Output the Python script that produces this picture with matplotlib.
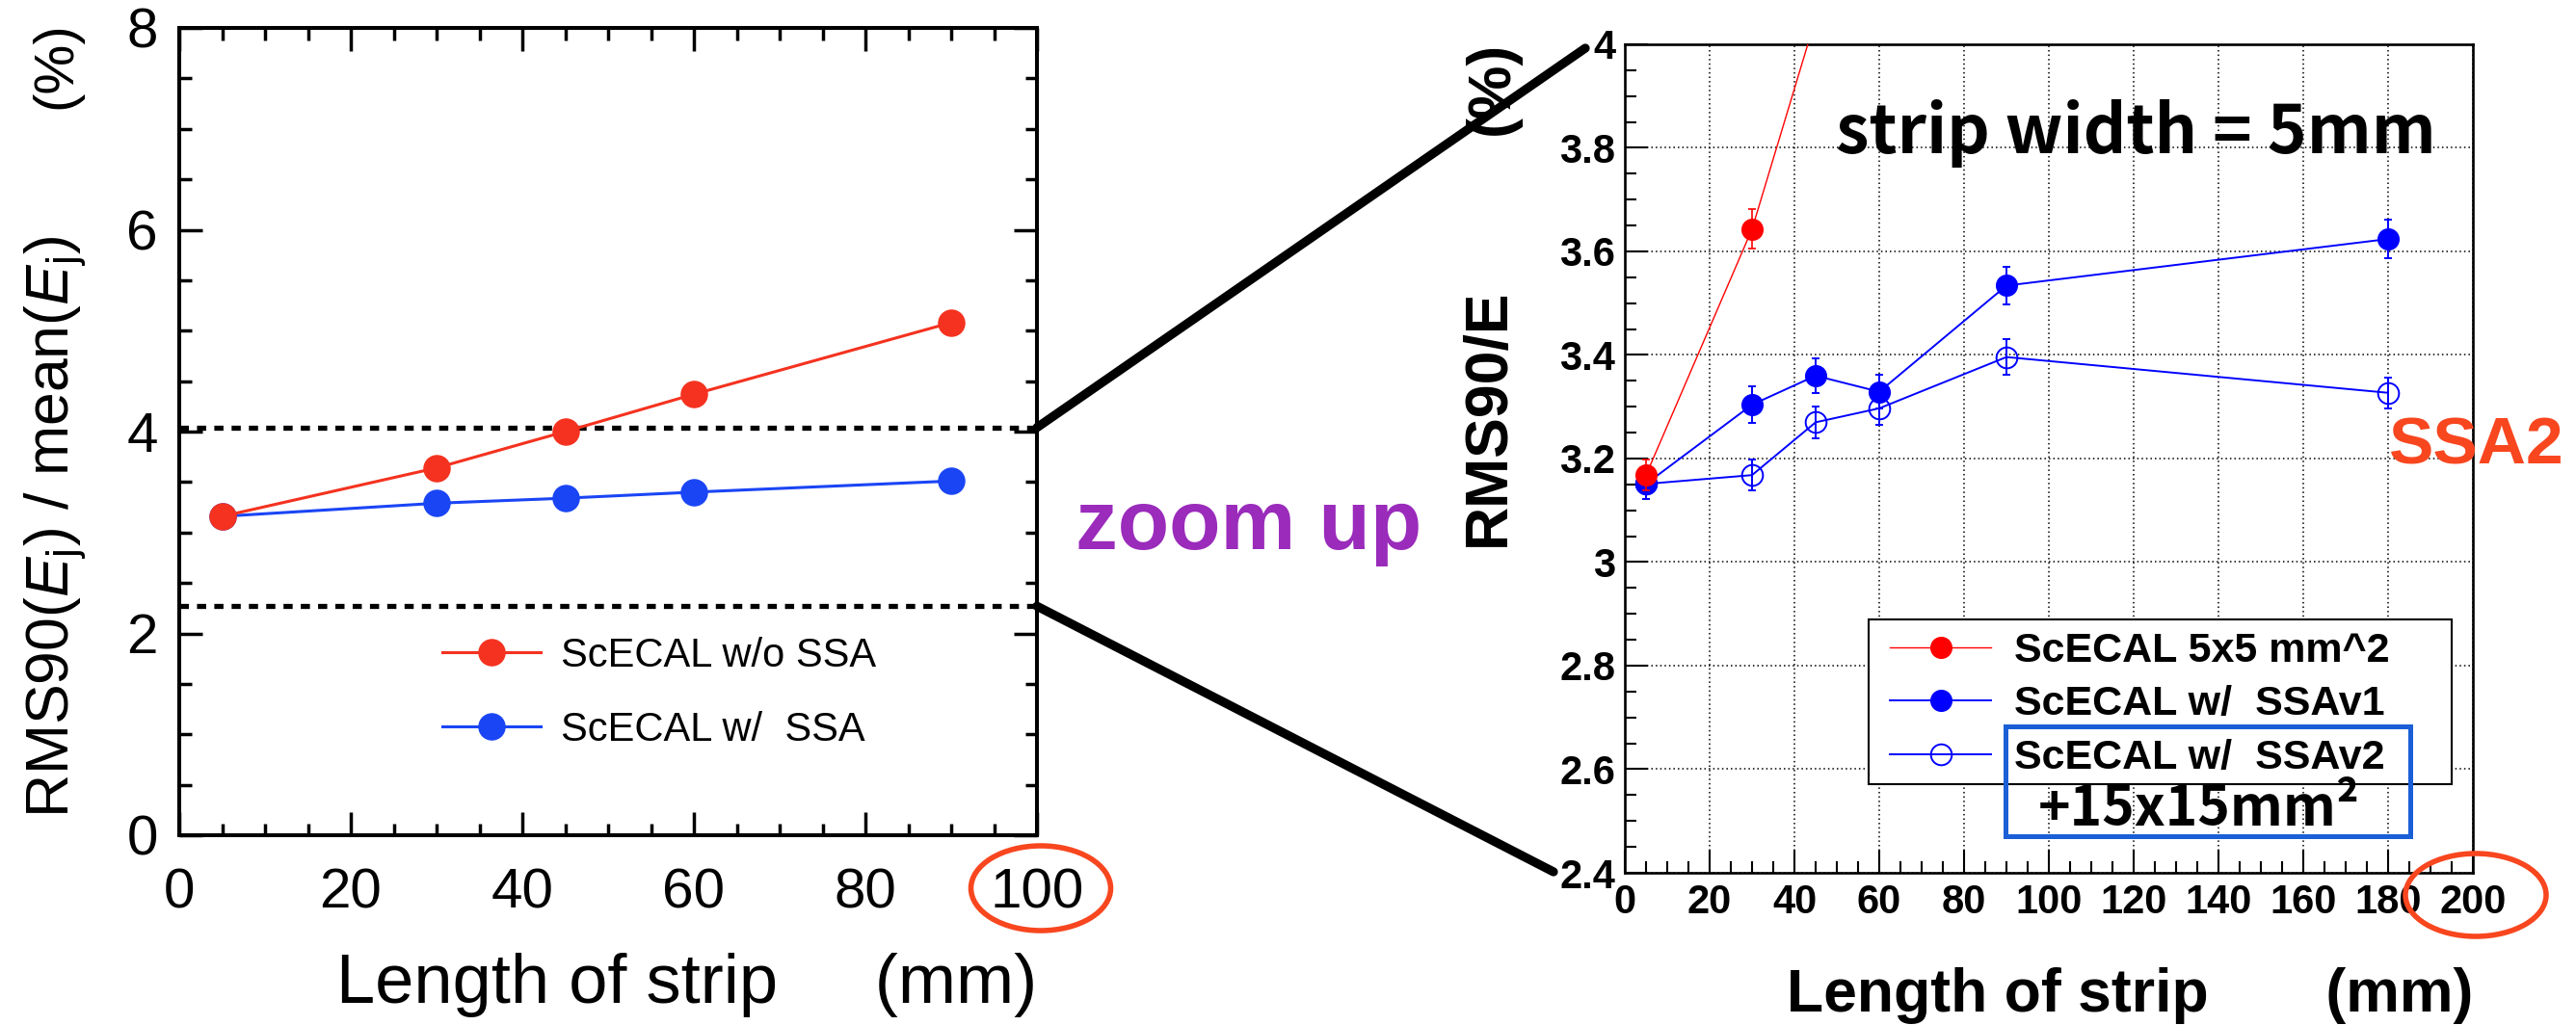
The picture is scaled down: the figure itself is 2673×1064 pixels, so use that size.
import matplotlib
matplotlib.use("Agg")
import matplotlib.pyplot as plt
from matplotlib.patches import Ellipse, Rectangle, ConnectionPatch
from matplotlib.ticker import MultipleLocator

W, H = 2673, 1064
DPI = 100

plt.rcParams['font.family'] = ['Liberation Sans', 'DejaVu Sans']
plt.rcParams['mathtext.fontset'] = 'custom'
plt.rcParams['mathtext.rm'] = 'Liberation Sans'
plt.rcParams['mathtext.it'] = 'Liberation Sans:italic'
plt.rcParams['mathtext.bf'] = 'Liberation Sans:bold'

# left panel: jet energy resolution vs strip length
strip_len = [5, 30, 45, 60, 90]
res_no_ssa = [3.16, 3.64, 4.00, 4.37, 5.08]
res_ssa = [3.16, 3.29, 3.34, 3.40, 3.51]
zoom_band = [2.27, 4.04]

# right panel: zoomed view, strip width 5 mm
len_5x5 = [5, 30, 45, 60, 90]
rms_5x5 = [3.168, 3.643, 4.05, 4.38, 5.08]
rms_5x5_err = [0.030, 0.038, 0.040, 0.040, 0.050]
len_ssa = [5, 30, 45, 60, 90, 180]
rms_ssav1 = [3.151, 3.304, 3.360, 3.329, 3.534, 3.624]
rms_ssav1_err = [0.029, 0.035, 0.034, 0.033, 0.036, 0.037]
rms_ssav2 = [3.151, 3.168, 3.270, 3.297, 3.396, 3.327]
rms_ssav2_err = [0.029, 0.030, 0.031, 0.032, 0.034, 0.030]

zoom_xticks = [0, 20, 40, 60, 80, 100, 120, 140, 160, 180, 200]
zoom_yticks = [2.4, 2.6, 2.8, 3.0, 3.2, 3.4, 3.6, 3.8, 4.0]
zoom_yticklabels = ['2.4', '2.6', '2.8', '3', '3.2', '3.4', '3.6', '3.8', '4']

RED_L = '#f4321f'
BLUE_L = '#1a45f5'
ORANGE = '#f8461f'
PURPLE = '#9a2bbb'
JP = ['Noto Sans CJK JP', 'DejaVu Sans']


def fig_rect(x0, y0, x1, y1):
    # pixel box (top-left origin) -> figure fraction rect
    return [x0 / W, 1 - y1 / H, (x1 - x0) / W, (y1 - y0) / H]


fig = plt.figure(figsize=(W / DPI, H / DPI), dpi=DPI)

# ---------------- left panel ----------------
ax1 = fig.add_axes(fig_rect(186, 29, 1076, 867))
ax1.plot(strip_len, res_no_ssa, '-o', color=RED_L, lw=2.2, ms=19.5, label='ScECAL w/o SSA', zorder=4)
ax1.plot(strip_len, res_ssa, '-o', color=BLUE_L, lw=2.2, ms=19.5, label='ScECAL w/  SSA', zorder=3)
for yb in zoom_band:
    ax1.axhline(yb, color='black', lw=3.8, ls=(0, (1.8, 1.6)), zorder=2, clip_on=False)

ax1.set_xlim(0, 100)
ax1.set_ylim(0, 8)
ax1.xaxis.set_major_locator(MultipleLocator(20))
ax1.xaxis.set_minor_locator(MultipleLocator(5))
ax1.yaxis.set_major_locator(MultipleLocator(2))
ax1.yaxis.set_minor_locator(MultipleLocator(0.5))
ax1.tick_params(which='both', direction='in', top=True, right=True, width=2.5, labelsize=42)
ax1.tick_params(which='major', length=17)
ax1.tick_params(which='minor', length=9)
ax1.tick_params(axis='x', pad=24)
ax1.tick_params(axis='y', pad=16)
for sp in ax1.spines.values():
    sp.set_linewidth(2.9)

ax1.set_xlabel('Length of strip     (mm)', fontsize=52, loc='right', va='baseline')
ax1.xaxis.set_label_coords(1.0, (867 - 1041) / 838)
ax1.set_ylabel(r'RMS90($E_\mathrm{j}$) / mean($E_\mathrm{j}$)',
               fontsize=45, loc='bottom', va='center')
ax1.yaxis.set_label_coords((58 - 186) / 890, 0.022)
ax1.text((58 - 186) / 890, (867 - 22) / 838, '(%)', transform=ax1.transAxes,
         rotation=90, ha='center', va='top', fontsize=42)

ax1.legend(loc='upper left', bbox_to_anchor=((459 - 186) / 890, (867 - 661) / 838),
           frameon=False, fontsize=30, handlelength=2.45, handletextpad=0.5,
           labelspacing=0.89, borderpad=0, borderaxespad=0)

# ---------------- right panel ----------------
ax2 = fig.add_axes(fig_rect(1686, 46, 2566, 906))
ax2.grid(True, which='major', color='black', lw=1.1, ls=(0, (1, 2)))
ax2.set_axisbelow(True)

ax2.errorbar(len_ssa, rms_ssav2, yerr=rms_ssav2_err, fmt='none', ecolor='blue',
             elinewidth=1.4, capsize=3.2, capthick=1.4, zorder=3)
ax2.plot(len_ssa, rms_ssav2, '-o', color='blue', lw=1.4, ms=15.6, mfc='none', mew=1.4,
         label='ScECAL w/  SSAv2', zorder=3)
ax2.errorbar(len_ssa, rms_ssav1, yerr=rms_ssav1_err, fmt='none', ecolor='blue',
             elinewidth=1.4, capsize=3.2, capthick=1.4, zorder=4)
ax2.plot(len_ssa, rms_ssav1, '-o', color='blue', lw=1.4, ms=15.6,
         label='ScECAL w/  SSAv1', zorder=4)
ax2.errorbar(len_5x5, rms_5x5, yerr=rms_5x5_err, fmt='none', ecolor='red',
             elinewidth=1.2, capsize=3.2, capthick=1.2, zorder=5)
ax2.plot(len_5x5, rms_5x5, '-o', color='red', lw=1.0, ms=15.6,
         label='ScECAL 5x5 mm^2', zorder=5)

ax2.set_xlim(0, 200)
ax2.set_ylim(2.4, 4.0)
ax2.set_xticks(zoom_xticks)
ax2.set_xticklabels([str(t) for t in zoom_xticks], fontsize=30, fontweight='bold')
ax2.set_yticks(zoom_yticks)
ax2.set_yticklabels(zoom_yticklabels, fontsize=30, fontweight='bold')
ax2.xaxis.set_minor_locator(MultipleLocator(5))
ax2.yaxis.set_minor_locator(MultipleLocator(0.05))
ax2.tick_params(which='both', direction='in', top=False, right=False, width=1.5)
ax2.tick_params(which='major', length=17.5)
ax2.tick_params(which='minor', length=8.5)
ax2.tick_params(axis='x', pad=8)
ax2.tick_params(axis='y', pad=7)
for sp in ax2.spines.values():
    sp.set_linewidth(1.9)

ax2.set_xlabel('Length of strip       (mm)', fontsize=45, fontweight='bold', loc='right',
               va='baseline')
ax2.xaxis.set_label_coords(1.0, (906 - 1050) / 860)
ax2.set_ylabel('RMS90/E', fontsize=45, fontweight='bold', va='center')
ax2.yaxis.set_label_coords((1544 - 1686) / 880, (906 - 433) / 860)
ax2.text((1548 - 1686) / 880, (906 - 91) / 860, '(%)', transform=ax2.transAxes,
         rotation=90, ha='center', va='center', fontsize=45, fontweight='bold')

# legend box drawn separately so the rows can sit freely inside it
ax2.add_patch(Rectangle(((1939 - 1686) / 880, (906 - 814) / 860), (2544 - 1939) / 880,
                        (814 - 643) / 860, transform=ax2.transAxes, fc='white',
                        ec='black', lw=1.5, clip_on=False, zorder=6))
h, l = ax2.get_legend_handles_labels()
order = [2, 1, 0]
leg = ax2.legend([h[i] for i in order], [l[i] for i in order], loc='upper left',
                 bbox_to_anchor=((1961 - 1686) / 880, (906 - 656) / 860),
                 prop={'size': 31, 'weight': 'bold'}, frameon=False,
                 borderpad=0, handlelength=2.44, handletextpad=0.56, labelspacing=0.36,
                 borderaxespad=0)
leg.set_zorder(7)

ax2.add_patch(Rectangle(((2081 - 1686) / 880, (906 - 868) / 860), (2501 - 2081) / 880,
                        (868 - 754) / 860, transform=ax2.transAxes, fill=False,
                        ec='#1a5fd6', lw=3.6, clip_on=False, zorder=10))
ax2.text((2282 - 1686) / 880, (906 - 840) / 860, '+15x15mm²', transform=ax2.transAxes,
         ha='center', va='center', fontsize=41, fontweight='bold', family=JP, zorder=11)
ax2.text((2216 - 1686) / 880, (906 - 159) / 860, 'strip width = 5mm', transform=ax2.transAxes,
         ha='center', va='baseline', fontsize=50, fontweight='bold', family=JP)

# ---------------- zoom connectors and annotations ----------------
con_top = ConnectionPatch(xyA=(100, zoom_band[1]), coordsA=ax1.transData,
                          xyB=((1645 - 1686) / 880, (906 - 50) / 860), coordsB=ax2.transAxes,
                          color='black', lw=6.7)
con_bot = ConnectionPatch(xyA=(100, zoom_band[0]), coordsA=ax1.transData,
                          xyB=((1612 - 1686) / 880, (906 - 905) / 860), coordsB=ax2.transAxes,
                          color='black', lw=6.7)
fig.add_artist(con_top)
fig.add_artist(con_bot)

fig.text(1296 / W, 1 - 570 / H, 'zoom up', color=PURPLE, fontsize=63, fontweight='bold',
         ha='center', va='baseline')
fig.text(2570 / W, 1 - 463 / H, 'SSA2', color=ORANGE, fontsize=50, fontweight='bold',
         ha='center', va='center')

for cx, cy, ew, eh in [(1080, 922, 145, 88), (2569, 929, 146, 86)]:
    fig.add_artist(Ellipse((cx / W, 1 - cy / H), ew / W, eh / H, transform=fig.transFigure,
                           fill=False, ec=ORANGE, lw=4))

fig.savefig('out.png', dpi=DPI)
